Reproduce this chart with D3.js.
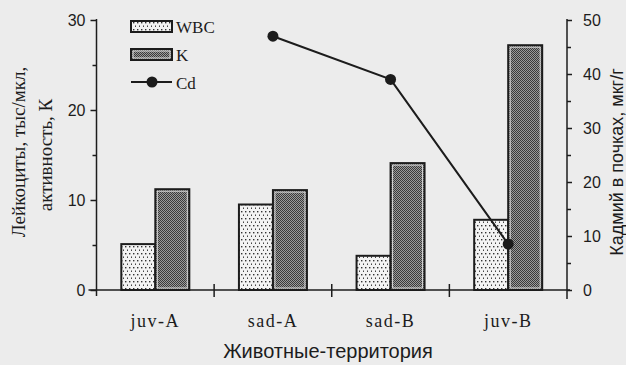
<!DOCTYPE html>
<html>
<head>
<meta charset="utf-8">
<script src="https://cdn.jsdelivr.net/npm/d3@7"></script>
<style>
  html, body { margin: 0; padding: 0; background: #ececec; }
  svg { display: block; }
</style>
</head>
<body>
<svg id="chart" width="626" height="365"></svg>
<script>
// ---- data ----
const categories = ["juv-A", "sad-A", "sad-B", "juv-B"];
const wbcValues = [5.1, 9.5, 3.8, 7.8];
const kValues = [11.2, 11.1, 14.1, 27.2];
const cdCategories = ["sad-A", "sad-B", "juv-B"];
const cdValues = [47, 39, 8.5];
const leftTicks = [0, 10, 20, 30];
const leftMinorTicks = [5, 15, 25];
const rightTicks = [0, 10, 20, 30, 40, 50];
const rightMinorTicks = [5, 15, 25, 35, 45];
const legendLabels = ["WBC", "K", "Cd"];

// ---- layout ----
const W = 626, H = 365;
const plotL = 96.5, plotR = 567, plotT = 20, plotB = 290;
const ink = "#1c1c1c";

const svg = d3.select("#chart");
svg.append("rect").attr("width", W).attr("height", H).attr("fill", "#ececec");

const defs = svg.append("defs");
// dotted pattern (WBC)
const pDot = defs.append("pattern").attr("id", "dots")
  .attr("patternUnits", "userSpaceOnUse").attr("width", 4).attr("height", 7);
pDot.append("rect").attr("width", 4).attr("height", 7).attr("fill", "#f3f3f3");
pDot.append("rect").attr("x", 1).attr("y", 1).attr("width", 1.4).attr("height", 1.4).attr("fill", "#333");
pDot.append("rect").attr("x", 3).attr("y", 4.5).attr("width", 1.4).attr("height", 1.4).attr("fill", "#333");
// checker pattern (K)
const pChk = defs.append("pattern").attr("id", "checker")
  .attr("patternUnits", "userSpaceOnUse").attr("width", 2).attr("height", 2);
pChk.append("rect").attr("width", 2).attr("height", 2).attr("fill", "#9a9a9a");
pChk.append("rect").attr("width", 1).attr("height", 1).attr("fill", "#3a3a3a");
pChk.append("rect").attr("x", 1).attr("y", 1).attr("width", 1).attr("height", 1).attr("fill", "#3a3a3a");

const x = d3.scaleBand().domain(categories).range([plotL, plotR]).padding(0);
const yL = d3.scaleLinear().domain([0, 30]).range([plotB, plotT]);
const yR = d3.scaleLinear().domain([0, 50]).range([plotB, plotT]);
const barW = 34;
const cx = c => x(c) + x.bandwidth() / 2;

// ---- bars ----
const g = svg.append("g");
categories.forEach((c, i) => {
  // WBC
  g.append("rect")
    .attr("x", cx(c) - barW).attr("y", yL(wbcValues[i]))
    .attr("width", barW).attr("height", yL(0) - yL(wbcValues[i]))
    .attr("fill", "url(#dots)").attr("stroke", ink).attr("stroke-width", 2);
  // K
  g.append("rect")
    .attr("x", cx(c)).attr("y", yL(kValues[i]))
    .attr("width", barW).attr("height", yL(0) - yL(kValues[i]))
    .attr("fill", "url(#checker)").attr("stroke", ink).attr("stroke-width", 2);
  g.append("rect")
    .attr("x", cx(c) + 2).attr("y", yL(kValues[i]) + 2)
    .attr("width", barW - 4).attr("height", yL(0) - yL(kValues[i]) - 4)
    .attr("fill", "none").attr("stroke", "#d8d8d8").attr("stroke-width", 1);
});

// ---- axes ----
const axisStyle = sel => {
  sel.select(".domain").remove();
  sel.selectAll("line").attr("stroke", ink).attr("stroke-width", 1.5);
  sel.selectAll("text").attr("fill", ink);
};

// left
svg.append("g").attr("transform", `translate(${plotL},0)`)
  .call(d3.axisLeft(yL).tickValues(leftTicks).tickSize(6).tickPadding(5))
  .call(axisStyle)
  .selectAll("text").attr("font-family", "Liberation Sans, Arial, sans-serif").attr("font-size", 16);
svg.append("g").attr("transform", `translate(${plotL},0)`)
  .call(d3.axisLeft(yL).tickValues(leftMinorTicks).tickSize(4).tickFormat(""))
  .call(axisStyle);
svg.append("line").attr("x1", plotL).attr("x2", plotL)
  .attr("y1", yL(30) - 1).attr("y2", yL(0) + 6)
  .attr("stroke", ink).attr("stroke-width", 1.5);

// right
svg.append("g").attr("transform", `translate(${plotR},0)`)
  .call(d3.axisRight(yR).tickValues(rightTicks).tickSize(5).tickPadding(11))
  .call(axisStyle)
  .selectAll("text").attr("font-family", "Liberation Sans, Arial, sans-serif").attr("font-size", 16);
svg.append("g").attr("transform", `translate(${plotR},0)`)
  .call(d3.axisRight(yR).tickValues(rightMinorTicks).tickSize(4).tickFormat(""))
  .call(axisStyle);
svg.append("line").attr("x1", plotR).attr("x2", plotR)
  .attr("y1", yR(50) - 1).attr("y2", yR(0) + 9)
  .attr("stroke", ink).attr("stroke-width", 1.5);

// bottom
svg.append("line").attr("x1", plotL - 8).attr("x2", plotR + 3)
  .attr("y1", plotB).attr("y2", plotB)
  .attr("stroke", ink).attr("stroke-width", 1.5);
categories.slice(1).forEach(c => {
  svg.append("line").attr("x1", x(c)).attr("x2", x(c))
    .attr("y1", plotB - 6).attr("y2", plotB + 7)
    .attr("stroke", ink).attr("stroke-width", 1.5);
});
svg.append("g").attr("transform", `translate(0,${plotB})`)
  .call(d3.axisBottom(x).tickSize(0).tickPadding(24))
  .call(axisStyle)
  .selectAll("text")
  .attr("font-family", "Liberation Serif, Times New Roman, serif")
  .attr("font-size", 18).attr("letter-spacing", "1.5px");

// ---- Cd line ----
const line = d3.line().x((d, i) => cx(cdCategories[i])).y(d => yR(d));
svg.append("path").datum(cdValues).attr("d", line)
  .attr("fill", "none").attr("stroke", ink).attr("stroke-width", 2);
svg.selectAll(".cd").data(cdValues).enter().append("circle")
  .attr("cx", (d, i) => cx(cdCategories[i])).attr("cy", d => yR(d))
  .attr("r", 5.5).attr("fill", ink);

// ---- legend ----
const lg = svg.append("g").attr("font-family", "Liberation Serif, Times New Roman, serif")
  .attr("font-size", 17).attr("fill", ink);
lg.append("rect").attr("x", 131).attr("y", 21).attr("width", 41).attr("height", 11)
  .attr("fill", "url(#dots)").attr("stroke", ink).attr("stroke-width", 2);
lg.append("rect").attr("x", 131).attr("y", 49).attr("width", 41).attr("height", 11)
  .attr("fill", "url(#checker)").attr("stroke", ink).attr("stroke-width", 2);
lg.append("rect").attr("x", 133).attr("y", 51).attr("width", 37).attr("height", 7)
  .attr("fill", "none").attr("stroke", "#d8d8d8").attr("stroke-width", 1);
lg.append("line").attr("x1", 131).attr("x2", 172).attr("y1", 82).attr("y2", 82)
  .attr("stroke", ink).attr("stroke-width", 2);
lg.append("circle").attr("cx", 152).attr("cy", 82).attr("r", 5.5).attr("fill", ink);
lg.append("text").attr("x", 176).attr("y", 33).text(legendLabels[0]);
lg.append("text").attr("x", 176).attr("y", 61).text(legendLabels[1]);
lg.append("text").attr("x", 176).attr("y", 89).text(legendLabels[2]);

// ---- titles ----
svg.append("text").attr("x", 328).attr("y", 358).attr("text-anchor", "middle")
  .attr("font-family", "Liberation Sans, Arial, sans-serif").attr("font-size", 20)
  .attr("fill", ink).text("Животные-территория");

const lt = svg.append("g").attr("font-family", "Liberation Serif, Times New Roman, serif")
  .attr("font-size", 19).attr("fill", ink).attr("text-anchor", "middle");
lt.append("text").attr("transform", "translate(25,152) rotate(-90)").text("Лейкоциты, тыс/мкл,");
lt.append("text").attr("transform", "translate(52,155) rotate(-90)").text("активность, К");

svg.append("text").attr("transform", "translate(623,162) rotate(-90)")
  .attr("text-anchor", "middle")
  .attr("font-family", "Liberation Sans, Arial, sans-serif").attr("font-size", 18)
  .attr("fill", ink).text("Кадмий в почках, мкг/г");
</script>
</body>
</html>
